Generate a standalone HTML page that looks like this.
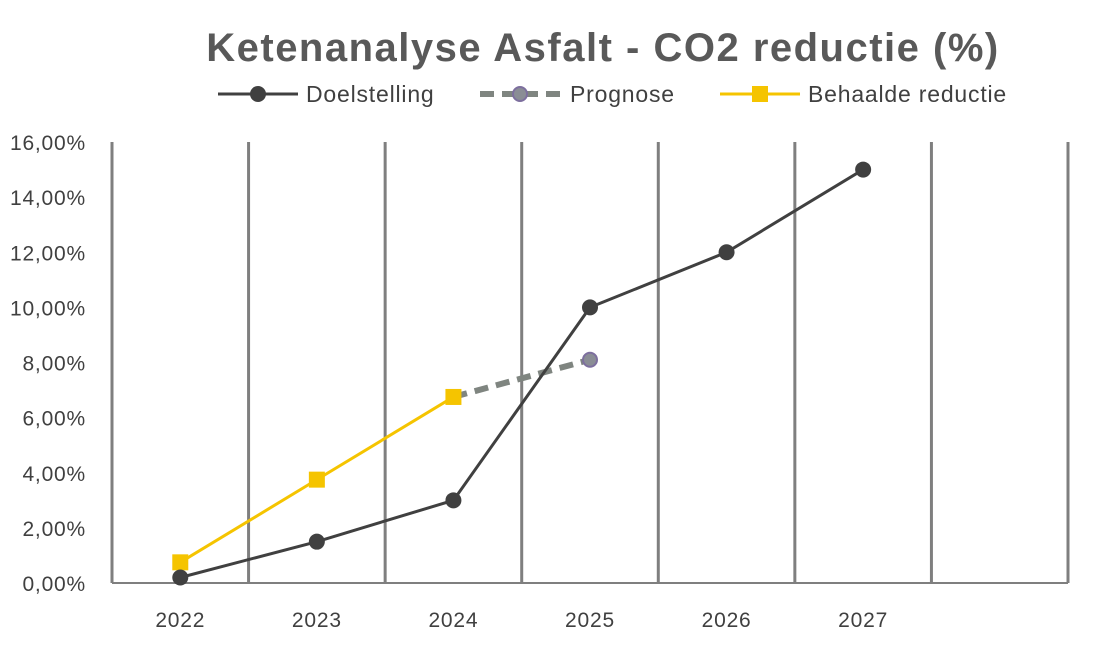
<!DOCTYPE html>
<html><head><meta charset="utf-8"><style>
body{margin:0;background:#fff;}
svg text{font-family:"Liberation Sans",sans-serif;}
</style></head><body>
<svg id="chart" width="1100" height="660" viewBox="0 0 1100 660">
<text x="603" y="61" text-anchor="middle" font-size="40" font-weight="bold" letter-spacing="1.5" fill="#595959">Ketenanalyse Asfalt - CO2 reductie (%)</text>
<g>
 <g>
  <line x1="218" y1="94" x2="298" y2="94" stroke="#404040" stroke-width="3"/>
  <circle cx="258" cy="94" r="8" fill="#404040"/>
  <text x="306" y="102" font-size="23" letter-spacing="0.8" fill="#404040">Doelstelling</text>
 </g>
 <g>
  <line x1="480" y1="94" x2="560" y2="94" stroke="#7f8580" stroke-width="6" stroke-dasharray="14,8"/>
  <circle cx="520" cy="94" r="7" fill="#8a8d95" stroke="#7d6f9e" stroke-width="2"/>
  <text x="570" y="102" font-size="23" letter-spacing="0.8" fill="#404040">Prognose</text>
 </g>
 <g>
  <line x1="720" y1="94" x2="800" y2="94" stroke="#f5c400" stroke-width="3"/>
  <rect x="752" y="86" width="16" height="16" fill="#f5c400"/>
  <text x="808" y="102" font-size="23" letter-spacing="0.8" fill="#404040">Behaalde reductie</text>
 </g>
</g>
<g id="grid"></g><g id="axes"></g><g id="series"></g>
</svg>
<script>
const categories=["2022","2023","2024","2025","2026","2027",""];
const doelstelling=[0.2,1.5,3,10,12,15];
const behaald=[0.75,3.75,6.75];
const prognose=[null,null,6.75,8.1];
const yTicks=[0,2,4,6,8,10,12,14,16];
const NS="http://www.w3.org/2000/svg";
const x0=112,x1=1068,y0=583,yTop=142,yMax=16;
const bw=(x1-x0)/categories.length;
const X=i=>x0+bw*(i+0.5);
const Y=v=>y0-(v/yMax)*(y0-yTop);
function mk(tag,attrs,parent){const e=document.createElementNS(NS,tag);for(const k in attrs)e.setAttribute(k,attrs[k]);document.getElementById(parent).appendChild(e);return e;}
for(let i=0;i<=categories.length;i++){
 const l=mk('line',{x1:x0+bw*i,x2:x0+bw*i,y1:yTop,y2:y0,stroke:'#7f7f7f','stroke-width':3},'grid');
 
 
}
const ax=mk('line',{x1:x0,x2:x1,y1:y0,y2:y0,stroke:'#7f7f7f','stroke-width':2},'axes');


yTicks.forEach(v=>{
 const t=mk('text',{x:86,y:Y(v)+8,'text-anchor':'end','font-size':21,'letter-spacing':0.8,fill:'#404040'},'axes');
 t.textContent=v.toFixed(2).replace('.',',')+'%';
 
 
});
categories.forEach((c,i)=>{
 const t=mk('text',{x:X(i),y:627,'text-anchor':'middle','font-size':21,'letter-spacing':0.8,fill:'#404040'},'axes');
 t.textContent=c;
 
 
});
function pts(arr){return arr.map((v,i)=>v==null?null:[X(i),Y(v)]).filter(p=>p);}
let p=pts(prognose);
let pl=mk('polyline',{points:p.map(q=>q.join(',')).join(' '),fill:'none',stroke:'#7f8580','stroke-width':6,'stroke-dasharray':'14,8'},'series');


prognose.forEach((v,i)=>{if(v==null||i<prognose.length-1)return;
 const c=mk('circle',{cx:X(i),cy:Y(v),r:7,fill:'#8a8d95',stroke:'#7d6f9e','stroke-width':2},'series');
 
 
});
p=pts(behaald);
pl=mk('polyline',{points:p.map(q=>q.join(',')).join(' '),fill:'none',stroke:'#f5c400','stroke-width':3},'series');


behaald.forEach((v,i)=>{
 const r=mk('rect',{x:X(i)-8,y:Y(v)-8,width:16,height:16,fill:'#f5c400'},'series');
 
 
});
p=pts(doelstelling);
pl=mk('polyline',{points:p.map(q=>q.join(',')).join(' '),fill:'none',stroke:'#404040','stroke-width':3},'series');


doelstelling.forEach((v,i)=>{
 const c=mk('circle',{cx:X(i),cy:Y(v),r:8,fill:'#404040'},'series');
 
 
});
</script>
</body></html>
